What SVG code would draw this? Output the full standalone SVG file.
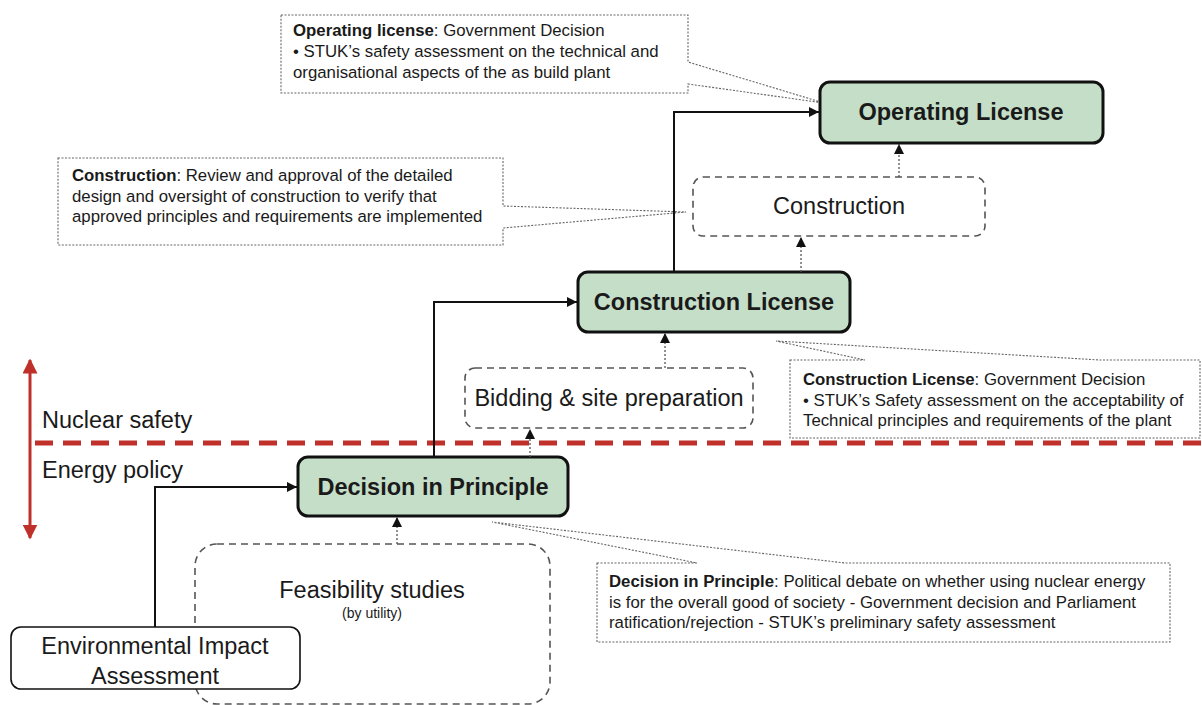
<svg xmlns="http://www.w3.org/2000/svg" width="1202" height="705" viewBox="0 0 1202 705">
<style>
text{font-family:"Liberation Sans",Arial,sans-serif;fill:#1a1a1a}
.lic rect{fill:#c5dec8;stroke:#111;stroke-width:3}
.lic text{font-size:23.5px;font-weight:bold;text-anchor:middle}
.step rect{fill:#fff;stroke:#555;stroke-width:1.6;stroke-dasharray:7,5}
.step text{font-size:23.5px;text-anchor:middle}
.note path{fill:#fff;stroke:#666;stroke-width:1.1;stroke-dasharray:2,1.5}
.note text{font-size:16.8px}
.note tspan.b{font-weight:bold}
.flow{fill:none;stroke:#111;stroke-width:2}
.dot{fill:none;stroke:#555;stroke-width:1.3;stroke-dasharray:2,2}
.lbl{font-size:23.5px}
</style>
<defs>
<marker id="ahs" viewBox="0 0 10 10" refX="10" refY="5" markerWidth="10" markerHeight="10" orient="auto" markerUnits="userSpaceOnUse">
<path d="M0,0 L10,5 L0,10 Z" fill="#111"/>
</marker>
<marker id="ahr" viewBox="0 0 10 10" refX="9" refY="5" markerWidth="15" markerHeight="15" orient="auto-start-reverse" markerUnits="userSpaceOnUse">
<path d="M0,0 L10,5 L0,10 Z" fill="#c0302a"/>
</marker>
</defs>

<g id="zones">
<line x1="35" y1="443" x2="1202" y2="443" stroke="#c0302a" stroke-width="5" stroke-dasharray="18,10"/>
<line x1="30" y1="360" x2="30" y2="538" stroke="#c0302a" stroke-width="3" marker-start="url(#ahr)" marker-end="url(#ahr)"/>
<text class="lbl" x="42" y="428">Nuclear safety</text>
<text class="lbl" x="42" y="478">Energy policy</text>
</g>

<g id="note-operating" class="note">
<path d="M281,15 H688 V62 L824,103 L688,84 V93 H281 Z"/>
<text x="293" y="36"><tspan class="b">Operating license</tspan>: Government Decision</text>
<text x="293" y="57">• STUK’s safety assessment on the technical and</text>
<text x="293" y="78">organisational aspects of the as build plant</text>
</g>

<g id="note-construction" class="note">
<path d="M58,158 H503 V206 L686,212 L503,228 V245 H58 Z"/>
<text x="72" y="181"><tspan class="b">Construction</tspan>: Review and approval of the detailed</text>
<text x="72" y="202">design and oversight of construction to verify that</text>
<text x="72" y="222">approved principles and requirements are implemented</text>
</g>

<g id="note-construction-license" class="note">
<path d="M790,360 H865 L776,341 L1100,360 H1200 V438 H790 Z"/>
<text x="803" y="385"><tspan class="b">Construction License</tspan>: Government Decision</text>
<text x="803" y="406">• STUK’s Safety assessment on the acceptability of</text>
<text x="803" y="426">Technical principles and requirements of the plant</text>
</g>

<g id="note-decision" class="note">
<path d="M597,563 H697 L492,522 L845,563 H1170 V642 H597 Z"/>
<text x="609" y="587"><tspan class="b">Decision in Principle</tspan>: Political debate on whether using nuclear energy</text>
<text x="609" y="608">is for the overall good of society - Government decision and Parliament</text>
<text x="609" y="628">ratification/rejection - STUK’s preliminary  safety assessment</text>
</g>

<g id="feasibility" class="step">
<rect x="195" y="544" width="355" height="160" rx="22"/>
<text x="372" y="598">Feasibility studies</text>
<text x="372" y="618" style="font-size:14px">(by utility)</text>
</g>

<g id="eia">
<rect x="11" y="627" width="289" height="62" rx="10" fill="#fff" stroke="#111" stroke-width="1.6"/>
<text x="155" y="654" style="font-size:23.5px" text-anchor="middle">Environmental Impact</text>
<text x="155" y="684" style="font-size:23.5px" text-anchor="middle">Assessment</text>
</g>

<g id="bidding" class="step">
<rect x="465" y="368" width="288" height="60" rx="10"/>
<text x="609" y="406">Bidding &amp; site preparation</text>
</g>

<g id="construction" class="step">
<rect x="693" y="177" width="292" height="59" rx="10"/>
<text x="839" y="214">Construction</text>
</g>

<g id="decision-in-principle" class="lic">
<rect x="298" y="457" width="270" height="59" rx="10"/>
<text x="433" y="495">Decision in Principle</text>
</g>

<g id="construction-license" class="lic">
<rect x="578" y="272" width="272" height="60" rx="10"/>
<text x="714" y="310">Construction License</text>
</g>

<g id="operating-license" class="lic">
<rect x="820" y="82" width="283" height="61" rx="10"/>
<text x="961" y="120">Operating License</text>
</g>

<g id="connectors">
<path class="flow" d="M155,627 V487 H297" marker-end="url(#ahs)"/>
<path class="flow" d="M434,457 V302 H577" marker-end="url(#ahs)"/>
<path class="flow" d="M674,272 V112 H819" marker-end="url(#ahs)"/>
<path class="dot" d="M397,544 V517" marker-end="url(#ahs)"/>
<path class="dot" d="M530,457 V429" marker-end="url(#ahs)"/>
<path class="dot" d="M665,368 V333" marker-end="url(#ahs)"/>
<path class="dot" d="M801,272 V237" marker-end="url(#ahs)"/>
<path class="dot" d="M899,177 V144" marker-end="url(#ahs)"/>
</g>
</svg>
